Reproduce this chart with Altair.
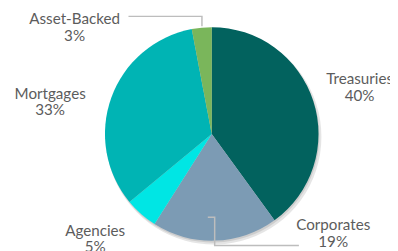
import altair as alt
import pandas as pd

# ---- data ----
categories = ["Treasuries", "Corporates", "Agencies", "Mortgages", "Asset-Backed"]
shares = [40, 19, 5, 33, 3]
colors = ["#02625e", "#7c9bb4", "#00e6e4", "#00b4b4", "#7ab65b"]

# ---- layout (pixels, chart coordinates) ----
CX, CY, R = 208, 126, 109
label_x = [359, 332, 89, 43, 68]
label_y = [75, 224, 230, 90, 14]
leader_lines = {
    "Corporates": [(204, 211), (211, 211), (211, 240), (297, 240)],
    "Asset-Backed": [(123, 6), (198, 6), (198, 16)],
}

df = pd.DataFrame({
    "category": categories,
    "share": shares,
    "idx": list(range(len(categories))),
})
df["label"] = [f"{c}\n{s}%" for c, s in zip(categories, shares)]
df["lx"] = label_x
df["ly"] = label_y

rows = []
for name, pts in leader_lines.items():
    for i, (px, py) in enumerate(pts):
        rows.append({"g": name, "o": i, "px": px, "py": py})
lines_df = pd.DataFrame(rows)

color_scale = alt.Scale(domain=categories, range=colors)

base = alt.Chart(df)

shadow1 = base.mark_arc(radius=R + 1, opacity=0.10, color="#000000").encode(
    theta=alt.Theta("share:Q", stack=True),
    order=alt.Order("idx:Q"),
    x=alt.value(CX + 2), y=alt.value(CY + 3),
)
shadow2 = base.mark_arc(radius=R, opacity=0.10, color="#000000").encode(
    theta=alt.Theta("share:Q", stack=True),
    order=alt.Order("idx:Q"),
    x=alt.value(CX + 1), y=alt.value(CY + 2),
)

pie = base.mark_arc(radius=R).encode(
    theta=alt.Theta("share:Q", stack=True),
    order=alt.Order("idx:Q"),
    color=alt.Color("category:N", scale=color_scale, legend=None),
    x=alt.value(CX), y=alt.value(CY),
)

leaders = alt.Chart(lines_df).mark_line(color="#bdbdbd", strokeWidth=1.5).encode(
    x=alt.X("px:Q", scale=None),
    y=alt.Y("py:Q", scale=None),
    detail="g:N",
    order="o:Q",
)

labels = base.mark_text(
    font="Lato", fontSize=15.5, color="#5c5c5c", align="center",
    baseline="alphabetic", lineBreak="\n", lineHeight=17,
).encode(
    x=alt.X("lx:Q", scale=None),
    y=alt.Y("ly:Q", scale=None),
    text="label:N",
)

chart = alt.layer(shadow1, shadow2, pie, leaders, labels).properties(
    width=390, height=243,
    autosize=alt.AutoSizeParams(type="none"),
    padding=0,
).configure_view(stroke=None)

chart.save("out.html", embed_options={"renderer": "svg", "actions": False})
